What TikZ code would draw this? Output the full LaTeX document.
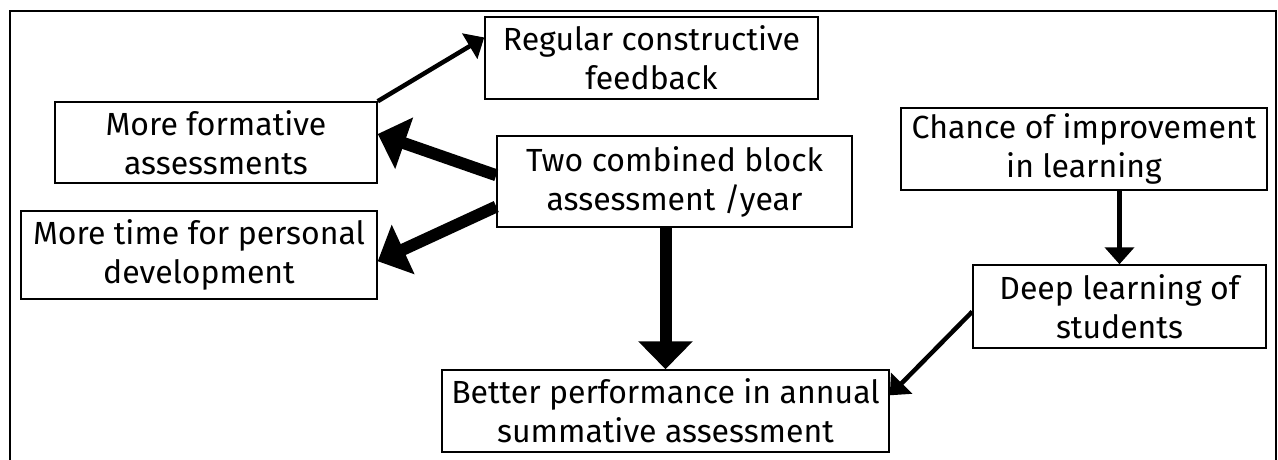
\documentclass[tikz,border=0pt]{standalone}
\usepackage{fontspec}
\setsansfont{Fira Sans}
\usepackage{tikz}
\usetikzlibrary{arrows.meta}
\usetikzlibrary{calc}

\begin{document}
\begin{tikzpicture}[
		x=1pt,
		y=-1pt,
		/utils/exec={\sffamily},
		font=\fontsize{32pt}{39pt}\selectfont,
		>=Triangle,
	]
		\tikzset{outcome/.style={
			draw,
			rectangle,
			line width=1.5pt,
			align=center,
			inner sep=0,
		}}
		\tikzset{thinarrow/.style={
			->,
			line width=4.5pt,
			>={Triangle[length=17pt,width=29pt]},
		}}
		\tikzset{thickarrow/.style={
			->,
			line width=12pt,
			>={Triangle[length=28pt,width=53pt]},
		}}

		\useasboundingbox (0,0) rectangle (1278,460);
		\draw[line width=2pt] (10,11) rectangle (1276,480);

		\node[outcome, minimum width=333, minimum height=82] (feedback) at (651.5,58) {Regular constructive\\feedback};
		\node[outcome, minimum width=322, minimum height=81] (formative) at (216,142.5) {More formative\\assessments};
		\node[outcome, minimum width=355, minimum height=91] (block) at (674.5,181.5) {Two combined block\\assessment /year};
		\node[outcome, minimum width=356, minimum height=88] (personal) at (199,255) {More time for personal\\development};
		\node[outcome, minimum width=366, minimum height=82] (chance) at (1084,149) {Chance of improvement\\in learning};
		\node[outcome, minimum width=293, minimum height=83] (deep) at (1119.5,306.5) {Deep learning of\\students};
		\node[outcome, minimum width=447, minimum height=82] (better) at (665.5,411) {Better performance in annual\\summative assessment};

		\draw[thinarrow] (formative.north east) -- (feedback.173);
		\draw[thickarrow] (block.178) -- (formative.3);
		\draw[thickarrow] (block.188) -- (personal.358);
		\draw[thickarrow] (block.south -| better.north) -- (better.north);
		\draw[thinarrow] (chance.south -| deep.north) -- (deep.north);
		\draw[thinarrow] (deep.182) -- (better.4);
	\end{tikzpicture}
\end{document}
